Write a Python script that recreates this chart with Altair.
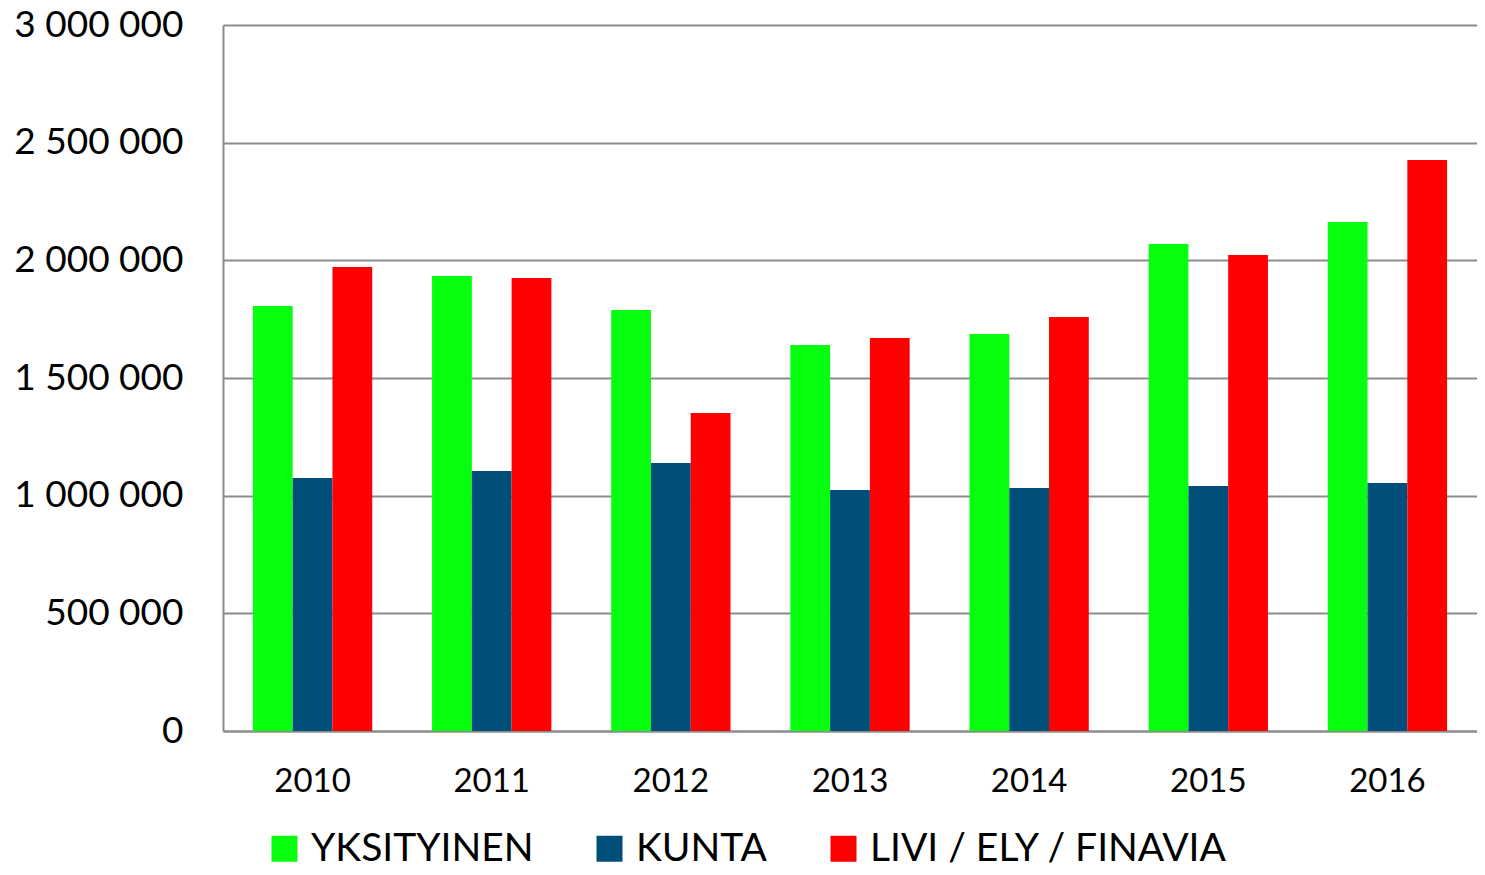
import altair as alt
import pandas as pd

years = ["2010", "2011", "2012", "2013", "2014", "2015", "2016"]
series = ["YKSITYINEN", "KUNTA", "LIVI / ELY / FINAVIA"]
yksityinen = [1806000, 1933000, 1789000, 1640000, 1687000, 2069000, 2163000]
kunta = [1075000, 1105000, 1139000, 1024000, 1033000, 1041000, 1054000]
livi = [1972000, 1925000, 1351000, 1670000, 1759000, 2023000, 2426000]
colors = ["#05FF0F", "#004F7A", "#FF0000"]

rows = []
for i, y in enumerate(years):
    for s, vals in zip(series, [yksityinen, kunta, livi]):
        rows.append({"year": y, "series": s, "value": vals[i]})
df = pd.DataFrame(rows)

font = "Lato"

chart = alt.Chart(df).mark_bar().encode(
    x=alt.X("year:N", sort=years, title=None,
            scale=alt.Scale(paddingInner=0.334, paddingOuter=0.167),
            axis=alt.Axis(labelAngle=0, labelFontSize=33, labelFont=font, labelColor="#000",
                          labelPadding=34, ticks=False, domainColor="#8c8c8c",
                          domainWidth=2, grid=False)),
    xOffset=alt.XOffset("series:N", sort=series),
    y=alt.Y("value:Q", title=None,
            scale=alt.Scale(domain=[0, 3000000], nice=False),
            axis=alt.Axis(values=[0, 500000, 1000000, 1500000, 2000000, 2500000, 3000000],
                          labelExpr="join(split(format(datum.value, ','), ','), ' ')",
                          labelFontSize=37, labelFont=font, labelColor="#000",
                          labelPadding=40, ticks=False, domainColor="#8c8c8c",
                          domainWidth=2, gridColor="#8c8c8c", gridWidth=2)),
    color=alt.Color("series:N", sort=series,
                    scale=alt.Scale(domain=series, range=colors),
                    legend=alt.Legend(title=None, orient="none", direction="horizontal",
                                      legendX=42, legendY=804,
                                      symbolType="square", symbolSize=676,
                                      symbolStrokeWidth=0,
                                      labelFontSize=39, labelFont=font, labelColor="#000",
                                      labelOffset=7, columnPadding=56,
                                      labelLimit=600)),
).properties(
    width=1254, height=706,
    autosize=alt.AutoSizeParams(type="none"),
    padding={"left": 215, "top": 17, "right": 0, "bottom": 134},
).configure_view(stroke=None)

chart.save("out.html", embed_options={"renderer": "svg", "actions": False})
